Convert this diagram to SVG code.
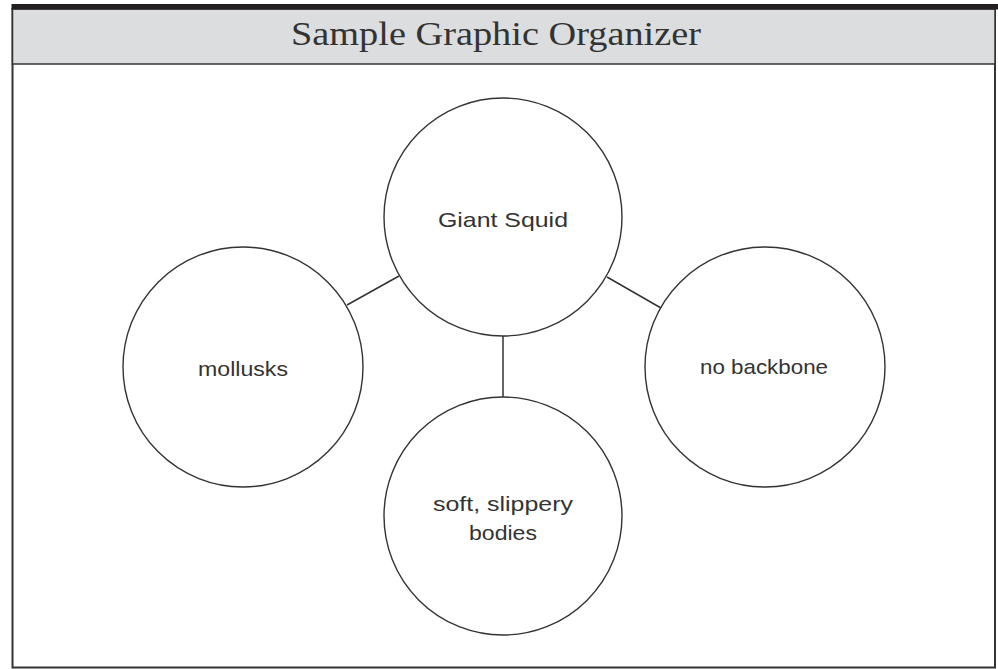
<svg xmlns="http://www.w3.org/2000/svg" width="998" height="669" viewBox="0 0 998 669">
  <style>
    .node circle { fill: #ffffff; stroke: #333333; stroke-width: 1.4; }
    .node text { font-family: "Liberation Sans", "DejaVu Sans", sans-serif; font-size: 21px; fill: #333333; text-anchor: middle; }
    .conn line { stroke: #333333; stroke-width: 1.5; }
    .title { font-family: "Liberation Serif", "DejaVu Serif", serif; font-size: 33px; fill: #333333; text-anchor: middle; }
  </style>
  <rect x="0" y="0" width="998" height="669" fill="#ffffff"/>
  <g id="frame">
    <rect x="12.5" y="9" width="982.5" height="658.5" fill="#ffffff" stroke="#333333" stroke-width="2"/>
    <rect x="12.5" y="9" width="982.5" height="55" fill="#dcdddf" stroke="#333333" stroke-width="1.5"/>
    <rect x="11.5" y="4" width="986.5" height="5.5" fill="#231f20"/>
    <text class="title" x="496" y="45" textLength="410" lengthAdjust="spacingAndGlyphs">Sample Graphic Organizer</text>
  </g>
  <g id="connectors" class="conn">
    <line x1="399" y1="276" x2="347" y2="305"/>
    <line x1="607" y1="277" x2="661" y2="308"/>
    <line x1="503" y1="336" x2="503" y2="397"/>
  </g>
  <g id="node-giant-squid" class="node">
    <circle cx="503" cy="217" r="119"/>
    <text x="503" y="227" textLength="130" lengthAdjust="spacingAndGlyphs">Giant Squid</text>
  </g>
  <g id="node-mollusks" class="node">
    <circle cx="243" cy="367" r="120"/>
    <text x="243" y="376" textLength="90" lengthAdjust="spacingAndGlyphs">mollusks</text>
  </g>
  <g id="node-no-backbone" class="node">
    <circle cx="765" cy="367" r="120"/>
    <text x="764" y="374" textLength="128" lengthAdjust="spacingAndGlyphs">no backbone</text>
  </g>
  <g id="node-soft-bodies" class="node">
    <circle cx="503" cy="516" r="119"/>
    <text x="503" y="511" textLength="140" lengthAdjust="spacingAndGlyphs">soft, slippery</text>
    <text x="503" y="540" textLength="68" lengthAdjust="spacingAndGlyphs">bodies</text>
  </g>
</svg>
